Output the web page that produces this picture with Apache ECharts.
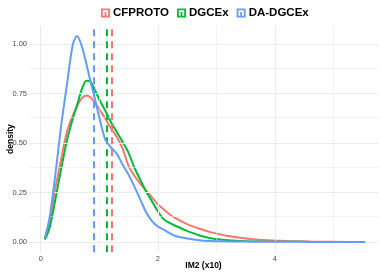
<!DOCTYPE html>
<html><head><meta charset="utf-8">
<script src="https://cdn.jsdelivr.net/npm/echarts@6/dist/echarts.min.js"></script>
<style>html,body{margin:0;padding:0;background:#fff}#c{width:382px;height:273px}</style>
</head><body><div id="c"></div>
<script>
const xs = [0.07,0.15,0.25,0.35,0.45,0.55,0.62,0.7,0.78,0.85,0.92,1.0,1.1,1.2,1.3,1.4,1.5,1.6,1.7,1.8,1.9,2.0,2.1,2.2,2.3,2.5,2.7,2.9,3.2,3.5,3.8,4.2,4.6,5.0,5.54];
const cfproto = [0.015,0.10,0.27,0.42,0.56,0.64,0.685,0.725,0.74,0.73,0.705,0.67,0.625,0.575,0.53,0.47,0.385,0.335,0.295,0.26,0.225,0.19,0.165,0.14,0.12,0.09,0.068,0.05,0.03,0.018,0.01,0.005,0.002,0.001,0];
const dgcex = [0.012,0.07,0.215,0.37,0.515,0.625,0.69,0.77,0.815,0.81,0.77,0.72,0.665,0.605,0.555,0.505,0.45,0.375,0.315,0.255,0.205,0.155,0.115,0.097,0.082,0.056,0.034,0.019,0.009,0.004,0.002,0.001,0.0005,0,0];
const dadgcex = [0.02,0.12,0.34,0.59,0.80,1.0,1.04,0.99,0.90,0.81,0.73,0.63,0.52,0.478,0.445,0.39,0.34,0.28,0.215,0.15,0.106,0.078,0.062,0.045,0.03,0.018,0.009,0.005,0.003,0.002,0.001,0.001,0.0005,0,0];
const seriesNames = ['CFPROTO','DGCEx','DA-DGCEx'];
const seriesColors = ['#F8766D','#00BA38','#619CFF'];
const meanValues = [1.21,1.12,0.91];
const xMajor = [0,2,4];
const xMinor = [1,3,5];
const yMajor = [0,0.25,0.5,0.75,1];
const yMinor = [0.125,0.375,0.625,0.875];

const values = [cfproto, dgcex, dadgcex];
const font = 'Liberation Sans, Arial, Helvetica, sans-serif';
const icon = 'path://M0,0H10V10H0Z M2,2V8H4V4H6V8H8V2Z';

const gridLines = [];
xMinor.forEach(v => gridLines.push({xAxis: v, lineStyle: {color: '#ebebeb', width: 0.6, type: 'solid'}}));
yMinor.forEach(v => gridLines.push({yAxis: v, lineStyle: {color: '#ebebeb', width: 0.6, type: 'solid'}}));
xMajor.forEach(v => gridLines.push({xAxis: v, lineStyle: {color: '#ebebeb', width: 1.1, type: 'solid'}}));
yMajor.forEach(v => gridLines.push({yAxis: v, lineStyle: {color: '#ebebeb', width: 1.1, type: 'solid'}}));

const series = [{
  name: 'grid', type: 'line', data: [], z: 1, silent: true,
  markLine: {silent: true, symbol: 'none', label: {show: false}, animation: false, data: gridLines}
}];
seriesNames.forEach((n, i) => {
  series.push({
    name: n, type: 'line', z: 3 + i,
    data: xs.map((x, j) => [x, values[i][j]]),
    showSymbol: false, smooth: 0.3,
    lineStyle: {color: seriesColors[i], width: 2},
    itemStyle: {color: seriesColors[i]},
    markLine: {silent: true, symbol: 'none', label: {show: false}, animation: false,
      lineStyle: {color: seriesColors[i], width: 2, type: [7,5]},
      data: [{xAxis: meanValues[i]}]}
  });
});

const chart = echarts.init(document.getElementById('c'), null, {renderer: 'canvas'});
chart.setOption({
  animation: false,
  backgroundColor: '#fff',
  legend: {
    data: seriesNames, left: 101, top: 7, padding: 0, itemGap: 8,
    itemWidth: 9, itemHeight: 9, icon: icon,
    textStyle: {fontFamily: font, fontWeight: 'bold', fontSize: 11.5, color: '#000', padding: [0,0,0,-2]}
  },
  grid: {left: 29, right: 4, top: 25.8, bottom: 20.7, containLabel: false, outerBoundsMode: 'none'},
  xAxis: {
    type: 'value', min: -0.2, max: 5.76,
    name: 'IM2 (x10)', nameLocation: 'middle', nameGap: 9, nameMoveOverlap: false,
    nameTextStyle: {fontFamily: font, fontWeight: 'bold', fontSize: 8.5, color: '#000', verticalAlign: 'top'},
    axisLine: {show: false}, axisTick: {show: false}, splitLine: {show: false},
    axisLabel: {customValues: xMajor, margin: 3, fontFamily: font, fontSize: 7.5, color: '#4d4d4d'}
  },
  yAxis: {
    type: 'value', min: -0.052, max: 1.092,
    name: 'density', nameLocation: 'middle', nameGap: 14, nameRotate: 90, nameMoveOverlap: false,
    nameTextStyle: {fontFamily: font, fontWeight: 'bold', fontSize: 8.5, color: '#000'},
    axisLine: {show: false}, axisTick: {show: false}, splitLine: {show: false},
    axisLabel: {customValues: yMajor, margin: 2, fontFamily: font, fontSize: 7.5, color: '#4d4d4d',
      formatter: v => v.toFixed(2)}
  },
  series: series
});
</script>
</body></html>
